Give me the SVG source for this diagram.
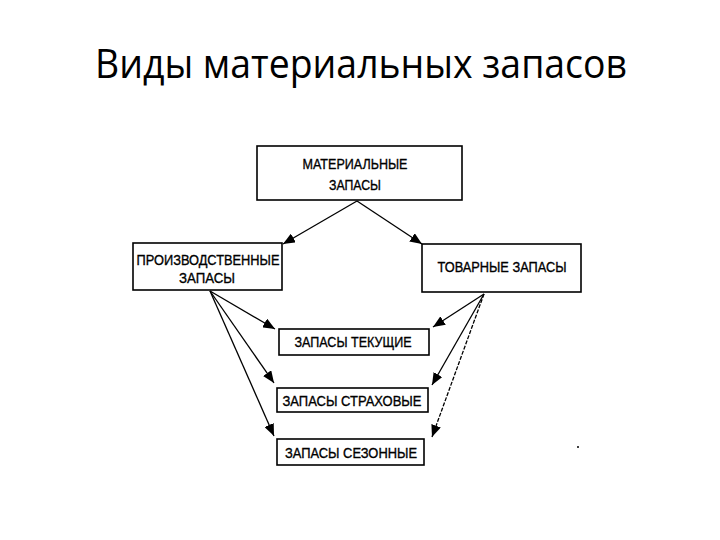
<svg xmlns="http://www.w3.org/2000/svg" width="720" height="540" viewBox="0 0 720 540">
<style>
.title{font-family:"Open Sans","Liberation Sans",sans-serif;font-size:40px;fill:#000}
.box{fill:#fff;stroke:#000;stroke-width:1.6}
.lbl{font-family:"Liberation Sans",Arial,sans-serif;font-size:15px;fill:#000;stroke:#000;stroke-width:0.35;text-anchor:middle}
.con{stroke:#000;stroke-width:1.3;fill:none;marker-end:url(#ah)}
</style>
<defs>
<marker id="ah" viewBox="0 0 12 10" refX="12" refY="5" markerWidth="12" markerHeight="10" markerUnits="userSpaceOnUse" orient="auto">
<path d="M0,0 L12,5 L0,10 z" fill="#000"/>
</marker>
</defs>
<rect width="720" height="540" fill="#fff"/>
<text class="title" x="95" y="78" textLength="532" lengthAdjust="spacingAndGlyphs">Виды материальных запасов</text>
<g id="connectors">
<line class="con" x1="357" y1="201" x2="283" y2="244"/>
<line class="con" x1="357" y1="201" x2="422" y2="244"/>
<line class="con" x1="210" y1="291" x2="275" y2="329"/>
<line class="con" x1="210" y1="291" x2="274" y2="383"/>
<line class="con" x1="210" y1="291" x2="274" y2="436"/>
<line class="con" x1="484" y1="294" x2="433" y2="327"/>
<line class="con" x1="484" y1="294" x2="432" y2="385"/>
<line class="con" x1="484" y1="294" x2="432" y2="437" stroke-dasharray="4,1.5"/>
</g>
<g id="materialnye">
<rect class="box" x="257" y="146" width="205" height="54"/>
<text class="lbl" x="355" y="169" textLength="105" lengthAdjust="spacingAndGlyphs">МАТЕРИАЛЬНЫЕ</text>
<text class="lbl" x="355" y="190" textLength="52" lengthAdjust="spacingAndGlyphs">ЗАПАСЫ</text>
</g>
<g id="proizvodstvennye">
<rect class="box" x="133" y="243" width="149" height="47"/>
<text class="lbl" x="208" y="265" textLength="143" lengthAdjust="spacingAndGlyphs">ПРОИЗВОДСТВЕННЫЕ</text>
<text class="lbl" x="207" y="283" textLength="56" lengthAdjust="spacingAndGlyphs">ЗАПАСЫ</text>
</g>
<g id="tovarnye">
<rect class="box" x="422" y="244" width="159" height="48"/>
<text class="lbl" x="502" y="272" textLength="129" lengthAdjust="spacingAndGlyphs">ТОВАРНЫЕ ЗАПАСЫ</text>
</g>
<g id="tekushchie">
<rect class="box" x="279" y="329" width="150" height="26"/>
<text class="lbl" x="353" y="347" textLength="117" lengthAdjust="spacingAndGlyphs">ЗАПАСЫ ТЕКУЩИЕ</text>
</g>
<g id="strakhovye">
<rect class="box" x="277" y="388" width="151" height="24"/>
<text class="lbl" x="352" y="406" textLength="139" lengthAdjust="spacingAndGlyphs">ЗАПАСЫ СТРАХОВЫЕ</text>
</g>
<g id="sezonnye">
<rect class="box" x="277" y="439" width="147" height="26"/>
<text class="lbl" x="351" y="458" textLength="132" lengthAdjust="spacingAndGlyphs">ЗАПАСЫ СЕЗОННЫЕ</text>
</g>
<circle cx="578" cy="447" r="1" fill="#000"/>
</svg>
